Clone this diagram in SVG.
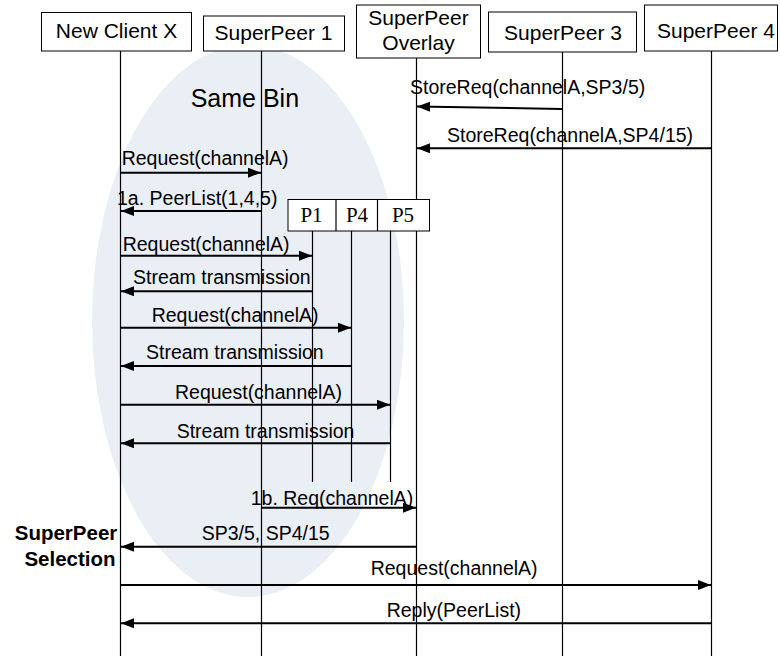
<svg xmlns="http://www.w3.org/2000/svg" width="780" height="656" viewBox="0 0 780 656">
  <style>
    .box { fill: #ffffff; stroke: #000000; stroke-width: 1; }
    .life { stroke: #000000; stroke-width: 1.2; fill: none; }
    .msg { stroke: #000000; stroke-width: 2; fill: none; marker-end: url(#head); }
    .hdr { font-family: "Liberation Sans", Arial, sans-serif; font-size: 21px; fill: #000000; }
    .lbl { font-family: "Liberation Sans", Arial, sans-serif; font-size: 19.5px; fill: #000000; }
    .peer { font-family: "Liberation Serif", "Times New Roman", serif; font-size: 21px; fill: #000000; }
    .note { font-family: "Liberation Sans", Arial, sans-serif; font-size: 20.5px; font-weight: bold; fill: #000000; }
    .bin { font-family: "Liberation Sans", Arial, sans-serif; font-size: 25px; fill: #000000; }
  </style>
  <defs>
    <marker id="head" viewBox="0 0 13 10" refX="13" refY="5" markerWidth="13" markerHeight="10" markerUnits="userSpaceOnUse" orient="auto">
      <path d="M0,0 L13,5 L0,10 z" fill="#000000"/>
    </marker>
  </defs>

  <rect width="780" height="656" fill="#ffffff"/>

  <!-- shaded region grouping the client and its bin peers -->
  <g id="same-bin">
    <ellipse cx="248" cy="321" rx="156" ry="276" fill="#eaeef5"/>
    <text class="bin" x="190.7" y="107">Same Bin</text>
  </g>

  <!-- lifelines and header boxes -->
  <g id="node-client">
    <line class="life" x1="120.5" y1="51" x2="120.5" y2="656"/>
    <rect class="box" x="41.5" y="12.5" width="150" height="38.5"/>
    <text class="hdr" x="116.5" y="38" text-anchor="middle">New Client X</text>
  </g>
  <g id="node-superpeer1">
    <line class="life" x1="261.5" y1="51" x2="261.5" y2="656"/>
    <rect class="box" x="203.5" y="16" width="141" height="35"/>
    <text class="hdr" x="273.5" y="40" text-anchor="middle">SuperPeer 1</text>
  </g>
  <g id="node-overlay">
    <line class="life" x1="416.5" y1="58" x2="416.5" y2="656"/>
    <rect class="box" x="356.5" y="5" width="124" height="53"/>
    <text class="hdr" x="418.5" y="25" text-anchor="middle">SuperPeer</text>
    <text class="hdr" x="418.5" y="50" text-anchor="middle">Overlay</text>
  </g>
  <g id="node-superpeer3">
    <line class="life" x1="562.5" y1="52" x2="562.5" y2="656"/>
    <rect class="box" x="488.5" y="12" width="148" height="40"/>
    <text class="hdr" x="563" y="40" text-anchor="middle">SuperPeer 3</text>
  </g>
  <g id="node-superpeer4">
    <line class="life" x1="711.5" y1="51" x2="711.5" y2="656"/>
    <rect class="box" x="644.5" y="5" width="133" height="46"/>
    <text class="hdr" x="657" y="37.5">SuperPeer 4</text>
  </g>
  <g id="node-peers">
    <line class="life" x1="312.5" y1="231" x2="312.5" y2="482"/>
    <line class="life" x1="351.5" y1="231" x2="351.5" y2="482"/>
    <line class="life" x1="390.5" y1="231" x2="390.5" y2="482"/>
    <rect class="box" x="288" y="199.5" width="141.5" height="31.5"/>
    <line class="life" x1="336" y1="199.5" x2="336" y2="231" stroke-width="1"/>
    <line class="life" x1="377.5" y1="199.5" x2="377.5" y2="231" stroke-width="1"/>
    <text class="peer" x="311.5" y="222" text-anchor="middle">P1</text>
    <text class="peer" x="357" y="222" text-anchor="middle">P4</text>
    <text class="peer" x="403" y="222" text-anchor="middle">P5</text>
  </g>

  <g id="note-selection">
    <text class="note" x="66" y="540" text-anchor="middle">SuperPeer</text>
    <text class="note" x="70" y="566" text-anchor="middle">Selection</text>
  </g>

  <!-- messages -->
  <g id="connectors">
    <path class="msg" d="M562,109 L417,106.5"/>
    <path class="msg" d="M711,148.3 L417,148.3"/>
    <path class="msg" d="M121,172.7 L261,172.7"/>
    <path class="msg" d="M261,211 L121,211"/>
    <path class="msg" d="M121,255.7 L312,255.7"/>
    <path class="msg" d="M312,291.3 L121,291.3"/>
    <path class="msg" d="M121,327.7 L351,327.7"/>
    <path class="msg" d="M351,366 L121,366"/>
    <path class="msg" d="M121,404.7 L390,404.7"/>
    <path class="msg" d="M390,443.3 L121,443.3"/>
    <path class="msg" d="M262,507.7 L416,507.7"/>
    <path class="msg" d="M416,546.7 L121,546.7"/>
    <path class="msg" d="M121,585 L711,585"/>
    <path class="msg" d="M711,623.3 L121,623.3"/>
  </g>

  <g id="labels">
    <text class="lbl" x="410" y="94">StoreReq(channelA,SP3/5)</text>
    <text class="lbl" x="447" y="141.5">StoreReq(channelA,SP4/15)</text>
    <text class="lbl" x="121.7" y="165">Request(channelA)</text>
    <text class="lbl" x="117" y="205">1a. PeerList(1,4,5)</text>
    <text class="lbl" x="122.7" y="250.5">Request(channelA)</text>
    <text class="lbl" x="133" y="284">Stream transmission</text>
    <text class="lbl" x="151.7" y="321.5">Request(channelA)</text>
    <text class="lbl" x="146" y="359">Stream transmission</text>
    <text class="lbl" x="175" y="399">Request(channelA)</text>
    <text class="lbl" x="176.7" y="437.7">Stream transmission</text>
    <text class="lbl" x="250.7" y="505">1b. Req(channelA)</text>
    <text class="lbl" x="201.7" y="540">SP3/5, SP4/15</text>
    <text class="lbl" x="370.7" y="575">Request(channelA)</text>
    <text class="lbl" x="386.7" y="617">Reply(PeerList)</text>
  </g>
</svg>
